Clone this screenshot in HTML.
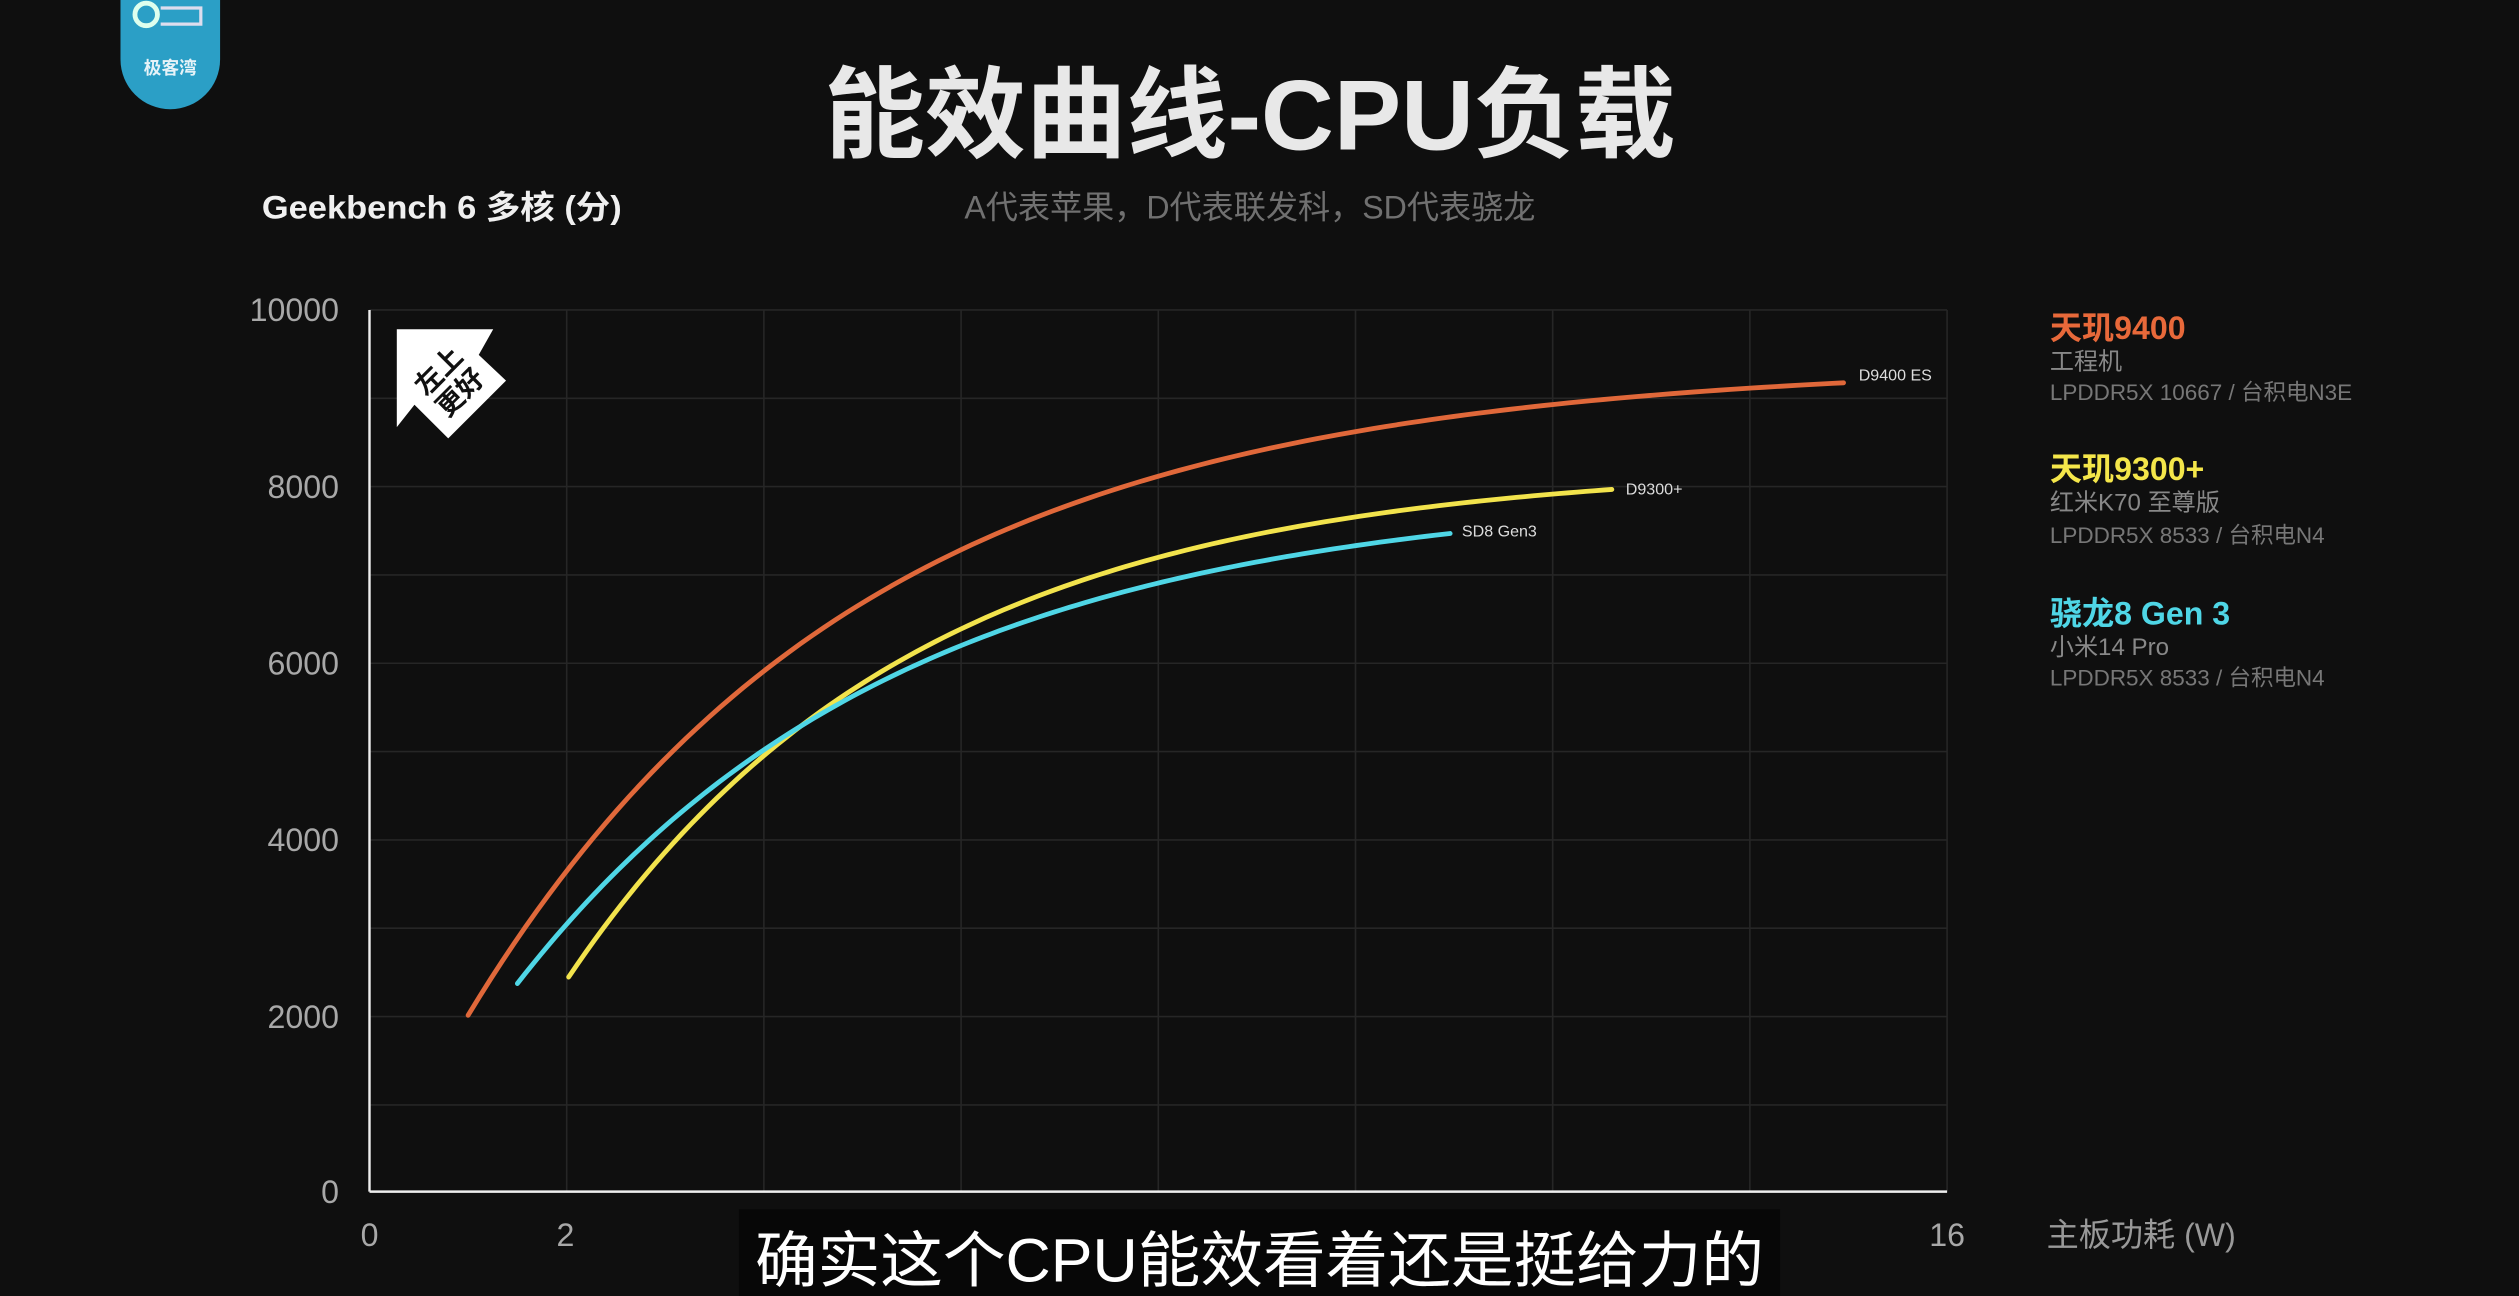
<!DOCTYPE html>
<html><head><meta charset="utf-8"><style>
html,body{margin:0;padding:0;background:#0f0f0f;}
svg{display:block;}
text{font-family:"Liberation Sans","Noto Sans CJK SC",sans-serif;}
</style></head><body>
<svg width="2519" height="1296" viewBox="0 0 1568 807" preserveAspectRatio="none">
<rect width="1568" height="807" fill="#0f0f0f"/>
<path d="M75,0 H137 V37 A31,31 0 0 1 75,37 Z" fill="#2b9fc6"/>
<circle cx="91" cy="9" r="7" fill="none" stroke="#dfe" stroke-width="3"/>
<path d="M100,5 H125 V15 H100" fill="none" stroke="#dde" stroke-width="2"/>
<text x="106" y="46" font-size="11" fill="#e6f3f8" text-anchor="middle" font-weight="bold">极客湾</text>
<text x="778" y="93" font-size="62" font-weight="bold" fill="#e8e8e8" text-anchor="middle" textLength="530" lengthAdjust="spacingAndGlyphs">能效曲线-CPU负载</text>
<text x="778" y="136" font-size="20" fill="#707070" text-anchor="middle">A代表苹果，D代表联发科，SD代表骁龙</text>
<text x="163" y="136" font-size="20" font-weight="bold" fill="#f0f0f0" textLength="224" lengthAdjust="spacingAndGlyphs">Geekbench 6 多核 (分)</text>
<g stroke="#262626" stroke-width="1">
<line x1="230" y1="193" x2="1212" y2="193"/><line x1="230" y1="248" x2="1212" y2="248"/>
<line x1="230" y1="303" x2="1212" y2="303"/><line x1="230" y1="358" x2="1212" y2="358"/>
<line x1="230" y1="413" x2="1212" y2="413"/><line x1="230" y1="468" x2="1212" y2="468"/>
<line x1="230" y1="523" x2="1212" y2="523"/><line x1="230" y1="578" x2="1212" y2="578"/>
<line x1="230" y1="633" x2="1212" y2="633"/><line x1="230" y1="688" x2="1212" y2="688"/>
<line x1="352.75" y1="193" x2="352.75" y2="742"/><line x1="475.5" y1="193" x2="475.5" y2="742"/>
<line x1="598.25" y1="193" x2="598.25" y2="742"/><line x1="721" y1="193" x2="721" y2="742"/>
<line x1="843.75" y1="193" x2="843.75" y2="742"/><line x1="966.5" y1="193" x2="966.5" y2="742"/>
<line x1="1089.25" y1="193" x2="1089.25" y2="742"/><line x1="1212" y1="193" x2="1212" y2="742"/>
</g>
<line x1="230" y1="193" x2="230" y2="742" stroke="#eee" stroke-width="1.5"/>
<line x1="230" y1="742" x2="1212" y2="742" stroke="#eee" stroke-width="1.5"/>
<g font-size="20" fill="#a8a8a8" text-anchor="end">
<text x="211" y="200">10000</text><text x="211" y="310">8000</text><text x="211" y="420">6000</text>
<text x="211" y="530">4000</text><text x="211" y="640">2000</text><text x="211" y="749">0</text>
</g>
<g font-size="20" fill="#a8a8a8" text-anchor="middle">
<text x="230" y="776">0</text><text x="352" y="776">2</text><text x="475" y="776">4</text><text x="598" y="776">6</text>
<text x="721" y="776">8</text><text x="844" y="776">10</text><text x="966" y="776">12</text><text x="1089" y="776">14</text><text x="1212" y="776">16</text>
</g>
<text x="1274" y="776" font-size="20" fill="#999">主板功耗 (W)</text>
<polygon points="247,205 307,205 298,221 315,237 279,273 258,252 247,266" fill="#fff"/>
<g transform="translate(280,238) rotate(-45)" font-size="17" font-weight="bold" fill="#111" text-anchor="middle">
<text x="0" y="-4">左上</text><text x="0" y="15">更好</text></g>
<g fill="none" stroke-width="3" stroke-linecap="round" stroke-linejoin="round">
<path id="po" d="M292,633 L306,609 Q320,585 336,562.5 Q352,540 376,507.5 Q400,475 437.5,437.5 Q475,400 507.5,382.5 Q540,365 570,352.5 Q600,340 660,318 Q720,296 785,280.5 Q850,265 925,255.5 Q1000,246 1074,241 L1148,236" stroke="#e0683a"/>
<path id="py" d="M355,610 L377.5,580 Q400,550 425,525 Q450,500 477.5,476 Q505,452 552.5,427.5 Q600,403 660,381.5 Q720,360 785,345 Q850,330 926.5,318 L1003,306" stroke="#f2e34c"/>
<path id="pc" d="M322,612 L337,595 Q352,578 376,554 Q400,530 425,509 Q450,488 477.5,470 Q505,452 552.5,430 Q600,408 660,388 Q720,368 785,355 Q850,342 876.5,337.5 L903,333" stroke="#4fd6e6"/>
</g>
<g font-size="10" fill="#ddd">
<text x="1157" y="237">D9400 ES</text><text x="1012" y="308">D9300+</text><text x="910" y="334">SD8 Gen3</text>
</g>
<text x="1276" y="211" font-size="20" font-weight="bold" fill="#e8693a">天玑9400</text>
<text x="1276" y="230" font-size="15" fill="#888">工程机</text>
<text x="1276" y="249" font-size="14" fill="#777">LPDDR5X 10667 / 台积电N3E</text>
<text x="1276" y="299" font-size="20" font-weight="bold" fill="#f4e64a">天玑9300+</text>
<text x="1276" y="318" font-size="15" fill="#888">红米K70 至尊版</text>
<text x="1276" y="338" font-size="14" fill="#777">LPDDR5X 8533 / 台积电N4</text>
<text x="1276" y="389" font-size="20" font-weight="bold" fill="#4fd6e6">骁龙8 Gen 3</text>
<text x="1276" y="408" font-size="15" fill="#888">小米14 Pro</text>
<text x="1276" y="427" font-size="14" fill="#777">LPDDR5X 8533 / 台积电N4</text>
<rect x="460" y="753" width="648" height="54" fill="#070707"/>
<text x="784" y="798" font-size="38" fill="#fff" text-anchor="middle" textLength="628" lengthAdjust="spacingAndGlyphs">确实这个CPU能效看着还是挺给力的</text>
</svg>
<script>
function mk(id,A,B,c,w0,w1,sh){
  var d="";
  for(var i=0;i<=120;i++){
    var W=w0+(w1-w0)*i/120;
    var s=A-B*Math.exp(-(W-sh)/c);
    var x=230+W*61.375, y=742-s*0.0549;
    d+=(i?"L":"M")+x.toFixed(2)+","+y.toFixed(2)+" ";
  }
  document.getElementById(id).setAttribute("d",d);
}
mk("po",9400,9502,4,1.0,14.95,0);
mk("py",8247,5847,3.5,2.02,12.6,2);
mk("pc",7960,5600,3.9,1.5,10.96,1.5);
</script>
</body></html>
